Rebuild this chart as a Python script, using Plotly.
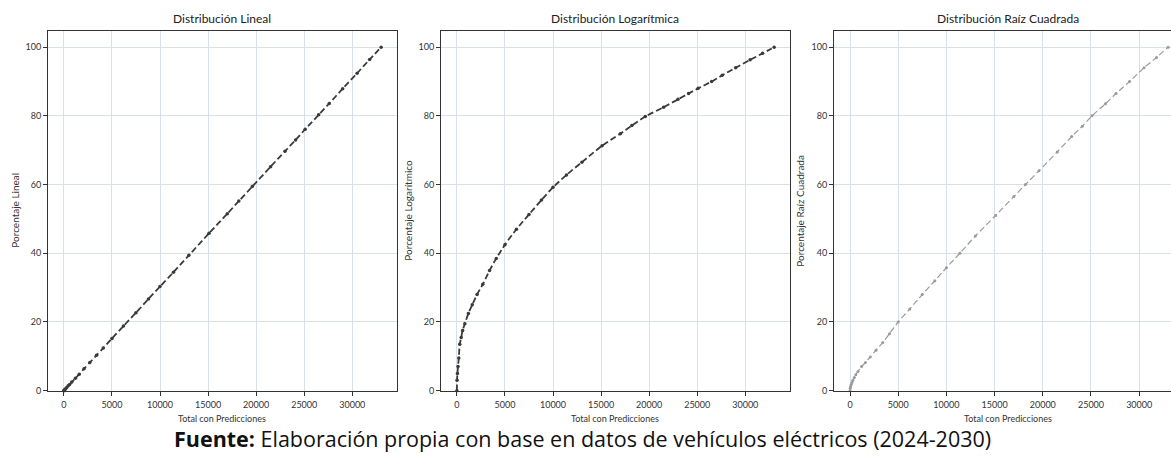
import plotly.graph_objects as go

# ---- data ----
total_predicciones = [0, 20, 60, 120, 200, 300, 450, 600, 830, 1200, 1600, 2100, 2700,
                      3400, 4100, 5000, 6200, 7500, 8800, 10000, 11400, 13000, 15100,
                      17000, 18200, 19600, 21500, 23000, 24100, 25100, 26500, 27600,
                      29000, 30500, 31800, 33000]

pct_lineal = [0, 0.06, 0.18, 0.36, 0.6, 0.9, 1.4, 1.8, 2.5, 3.6, 4.8, 6.4, 8.2, 10.3,
              12.4, 15.2, 18.8, 22.7, 26.7, 30.3, 34.5, 39.4, 45.8, 51.5, 55.2, 59.4,
              65.2, 69.7, 73.0, 76.1, 80.3, 83.6, 87.9, 92.4, 96.4, 100]

pct_log = [0, 3, 5, 7, 9.5, 13.5, 15.5, 17.5, 19.5, 22.5, 25, 28, 31, 35, 38.5, 42.5,
           47, 51.3, 55.5, 59.2, 62.8, 66.5, 71.3, 74.8, 77.2, 79.8, 82.5, 84.8, 86.5,
           88, 90, 91.8, 94, 96.3, 98.2, 100]

pct_sqrt = [0, 0.7, 1.2, 1.8, 2.4, 3, 3.8, 4.6, 5.6, 7, 8.2, 9.8, 11.8, 14, 16.6, 20,
            23.8, 28, 32, 35.8, 40, 45, 51, 56.5, 60, 64, 69.5, 74, 77, 80, 83.5,
            86.5, 90, 94, 97, 100]

panel_titles = ["Distribución Lineal", "Distribución Logarítmica", "Distribución Raíz Cuadrada"]
y_titles = ["Porcentaje Lineal", "Porcentaje Logarítmico", "Porcentaje Raíz Cuadrada"]
x_title = "Total con Predicciones"
x_ticks = [0, 5000, 10000, 15000, 20000, 25000, 30000]
y_ticks = [0, 20, 40, 60, 80, 100]
caption_bold = "Fuente:"
caption_rest = " Elaboración propia con base en datos de vehículos eléctricos (2024-2030)"

# ---- layout geometry (pixels) ----
W, H = 1171, 456
def px(x):
    return x / W
def py(y):
    return 1 - y / H

panels = [
    dict(x0=48, x1=397, xr=[-1650, 34650], color="#3a3a3a", width=1.8, msize=3.5),
    dict(x0=441, x1=790, xr=[-1650, 34650], color="#3a3a3a", width=1.8, msize=3.5),
    dict(x0=834, x1=1171, xr=[-1660, 33300], color="#9a9a9a", width=1.2, msize=3),
]
top, bottom = 31, 395
series = [pct_lineal, pct_log, pct_sqrt]
ylabel_x = [15, 408, 800]
title_cx = [222, 615, 1008]

FONT = "Lato, Liberation Sans, sans-serif"
fig = go.Figure()
layout = dict(width=W, height=H, margin=dict(l=0, r=0, t=0, b=0),
              paper_bgcolor="white", plot_bgcolor="white", showlegend=False,
              font=dict(family=FONT, color="#222"))
annotations = []
for i, p in enumerate(panels):
    n = "" if i == 0 else str(i + 1)
    fig.add_trace(go.Scatter(
        x=total_predicciones, y=series[i], mode="lines+markers",
        line=dict(color=p["color"], width=p["width"], dash="6px,3px", shape="spline",
                  smoothing=0.6),
        marker=dict(color=p["color"], size=p["msize"]),
        cliponaxis=False, xaxis="x" + n, yaxis="y" + n))
    layout["xaxis" + n] = dict(
        domain=[px(p["x0"]), px(p["x1"])], range=p["xr"], anchor="y" + n,
        tickvals=x_ticks, ticktext=[str(t) for t in x_ticks],
        ticks="outside", ticklen=4, tickcolor="#333", tickfont=dict(size=9, color="#333"),
        ticklabelstandoff=2,
        showgrid=True, gridcolor="#d9e0e8", gridwidth=1, zeroline=False,
        showline=True, linecolor="#333", linewidth=1, mirror=True)
    layout["yaxis" + n] = dict(
        domain=[py(bottom), py(top)], range=[0, 104.8], anchor="x" + n,
        tickvals=y_ticks, ticks="outside", ticklen=4, tickcolor="#333",
        tickfont=dict(size=9, color="#333"),
        showgrid=True, gridcolor="#d9e0e8", gridwidth=1, zeroline=False,
        showline=True, linecolor="#333", linewidth=1, mirror=(i < 2))
    annotations.append(dict(text=panel_titles[i], x=px(title_cx[i]), y=py(19), xref="paper",
                            yref="paper", showarrow=False, font=dict(size=12, color="#222"),
                            xanchor="center", yanchor="middle"))
    annotations.append(dict(text=x_title, x=px(title_cx[i]), y=py(423), xref="paper",
                            yref="paper", showarrow=False, font=dict(size=9, color="#333"),
                            xanchor="center", yanchor="middle"))
    annotations.append(dict(text=y_titles[i], x=px(ylabel_x[i]), y=py(213), xref="paper",
                            yref="paper", showarrow=False, textangle=-90,
                            font=dict(size=10, color="#333"),
                            xanchor="center", yanchor="middle"))

annotations.append(dict(text="<b>" + caption_bold + "</b>" + caption_rest,
                        x=px(582), y=py(443), xref="paper", yref="paper", showarrow=False,
                        font=dict(size=21.5, color="#111", family="Open Sans, sans-serif"),
                        xanchor="center", yanchor="middle"))
layout["annotations"] = annotations
fig.update_layout(**layout)
fig.write_html("out.html", config={"displayModeBar": False},
               post_script="document.body.style.margin='0px';document.body.style.overflow='hidden';")
